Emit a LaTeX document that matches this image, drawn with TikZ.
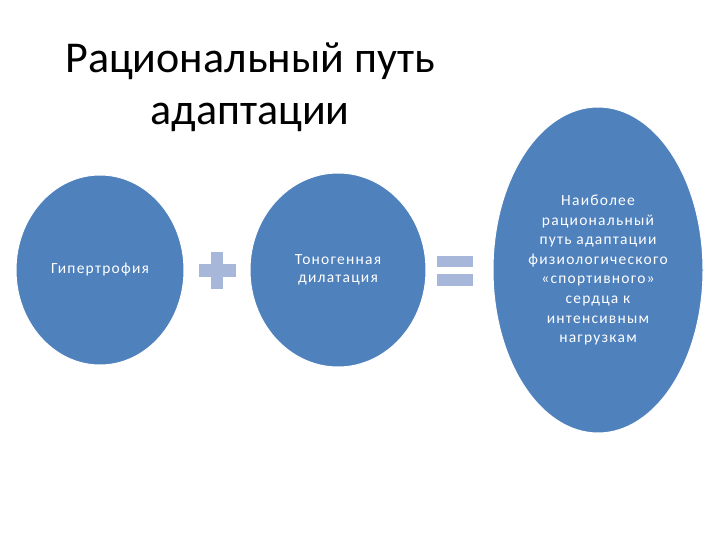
\documentclass[tikz,border=0pt]{standalone}
\usepackage{fontspec}
\setmainfont{Carlito}
\newfontfamily\spacedfont[LetterSpace=8]{Carlito}
\usetikzlibrary{shapes.geometric}
\definecolor{ellblue}{RGB}{79,129,189}
\definecolor{signblue}{RGB}{167,183,217}
\begin{document}
\begin{tikzpicture}[x=1pt,y=-1pt,
  ell/.style={ellipse,fill=ellblue,draw=white,line width=1pt,inner sep=0pt,text=white,align=center},
  sign/.style={fill=signblue,draw=none}]
\path[use as bounding box] (0,0) rectangle (720,540);
\node[font=\fontsize{44}{52}\selectfont,align=center,anchor=base] (title) at (250,125) {Рациональный путь\\адаптации};
\node[ell,minimum width=168pt,minimum height=190pt,font=\spacedfont\fontsize{15.5}{18}\selectfont] (hyp) at (100,270) {Гипертрофия};
\node[ell,minimum width=176pt,minimum height=194pt,font=\spacedfont\fontsize{15.5}{18}\selectfont] (ton) at (338,270) {Тоногенная\\дилатация};
\node[ell,minimum width=210pt,minimum height=326pt,font=\spacedfont\fontsize{15.5}{19.6}\selectfont] (res) at (598,270) {Наиболее\\рациональный\\путь адаптации\\физиологического\\«спортивного»\\сердца к\\интенсивным\\нагрузкам};
% plus
\coordinate (plus) at (218,270);
\fill[sign] ([xshift=-19pt,yshift=-7pt]plus) rectangle ([xshift=18pt,yshift=6pt]plus);
\fill[sign] ([xshift=-7pt,yshift=-19pt]plus) rectangle ([xshift=5pt,yshift=18pt]plus);
% equals
\coordinate (eq) at (455,271);
\fill[sign] ([xshift=-18pt,yshift=15pt]eq) rectangle ([xshift=18pt,yshift=4pt]eq);
\fill[sign] ([xshift=-18pt,yshift=-3pt]eq) rectangle ([xshift=18pt,yshift=-15pt]eq);
\end{tikzpicture}
\end{document}
